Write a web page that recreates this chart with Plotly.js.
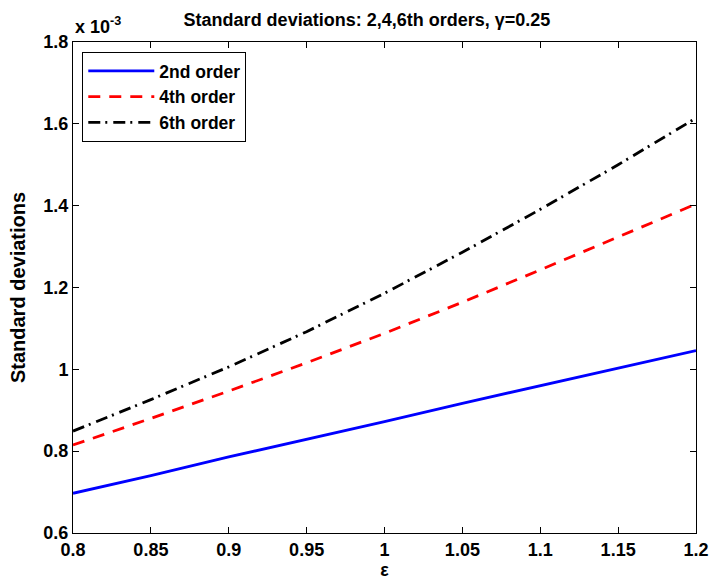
<!DOCTYPE html>
<html>
<head>
<meta charset="utf-8">
<script src="https://cdn.plot.ly/plotly-3.0.1.min.js"></script>
<style>
  html, body { margin: 0; padding: 0; background: #fff; }
  #chart { width: 714px; height: 587px; }
</style>
</head>
<body>
<div id="chart"></div>
<script>
// Smoothing parameter epsilon
const epsilon = [0.80, 0.85, 0.90, 0.95, 1.00, 1.05, 1.10, 1.15, 1.20];

// Standard deviations (in units of 1e-3) for each approximation order
const order2 = [0.697, 0.740, 0.786, 0.829, 0.872, 0.917, 0.960, 1.003, 1.046];
const order4 = [0.815, 0.880, 0.947, 1.016, 1.088, 1.164, 1.243, 1.323, 1.404];
const order6 = [0.849, 0.926, 1.006, 1.092, 1.186, 1.286, 1.391, 1.500, 1.614];

const seriesNames = ['2nd order', '4th order', '6th order'];

const xTicks = [0.8, 0.85, 0.9, 0.95, 1, 1.05, 1.1, 1.15, 1.2];
const xTickText = ['0.8', '0.85', '0.9', '0.95', '1', '1.05', '1.1', '1.15', '1.2'];
const yTicks = [0.6, 0.8, 1, 1.2, 1.4, 1.6, 1.8];
const yTickText = ['0.6', '0.8', '1', '1.2', '1.4', '1.6', '1.8'];

const FONT = 'Liberation Sans, Arial, Helvetica, sans-serif';
const boldFont = (size) => ({ family: FONT, size: size, color: '#000', weight: 'bold' });

const traces = [
  { x: epsilon, y: order2, name: seriesNames[0], mode: 'lines',
    line: { color: '#0000ff', width: 2.8, dash: 'solid' } },
  { x: epsilon, y: order4, name: seriesNames[1], mode: 'lines',
    line: { color: '#ff0000', width: 2.8, dash: '12px,9px' } },
  { x: epsilon, y: order6, name: seriesNames[2], mode: 'lines',
    line: { color: '#000000', width: 2.8, dash: '12px,5px,2px,6px' } }
];

const axisCommon = {
  showgrid: false,
  zeroline: false,
  showline: true,
  linecolor: '#000',
  linewidth: 1,
  mirror: 'ticks',
  ticks: 'inside',
  ticklen: 6,
  tickwidth: 1,
  tickcolor: '#000',
  tickfont: boldFont(18)
};

const layout = {
  width: 714,
  height: 587,
  margin: { l: 73, r: 18, t: 42, b: 54 },
  paper_bgcolor: '#fff',
  plot_bgcolor: '#fff',
  font: boldFont(18),
  title: {
    text: 'Standard deviations: 2,4,6th orders, γ=0.25',
    font: boldFont(18),
    x: 0.4718, xref: 'paper', xanchor: 'center',
    y: 1 - 20 / 587, yref: 'container', yanchor: 'middle'
  },
  xaxis: Object.assign({}, axisCommon, {
    range: [0.8, 1.2],
    tickvals: xTicks,
    ticktext: xTickText,
    title: { text: 'ε', font: boldFont(18), standoff: 4 }
  }),
  yaxis: Object.assign({}, axisCommon, {
    range: [0.6, 1.8],
    tickvals: yTicks,
    ticktext: yTickText,
    title: { text: 'Standard deviations', font: boldFont(20), standoff: 12 }
  }),
  showlegend: true,
  legend: {
    x: 0.0149, y: 0.9796, xanchor: 'left', yanchor: 'top',
    bgcolor: '#fff', bordercolor: '#000', borderwidth: 1,
    font: boldFont(17.5),
    itemwidth: 66,
    tracegroupgap: 0
  },
  annotations: [
    {
      text: 'x 10<sup>-3</sup>',
      xref: 'paper', yref: 'paper',
      x: 0, y: 1, xanchor: 'left', yanchor: 'bottom',
      yshift: 3,
      showarrow: false,
      font: boldFont(18)
    }
  ]
};

Plotly.newPlot('chart', traces, layout, { displayModeBar: false, staticPlot: true });
</script>
</body>
</html>
